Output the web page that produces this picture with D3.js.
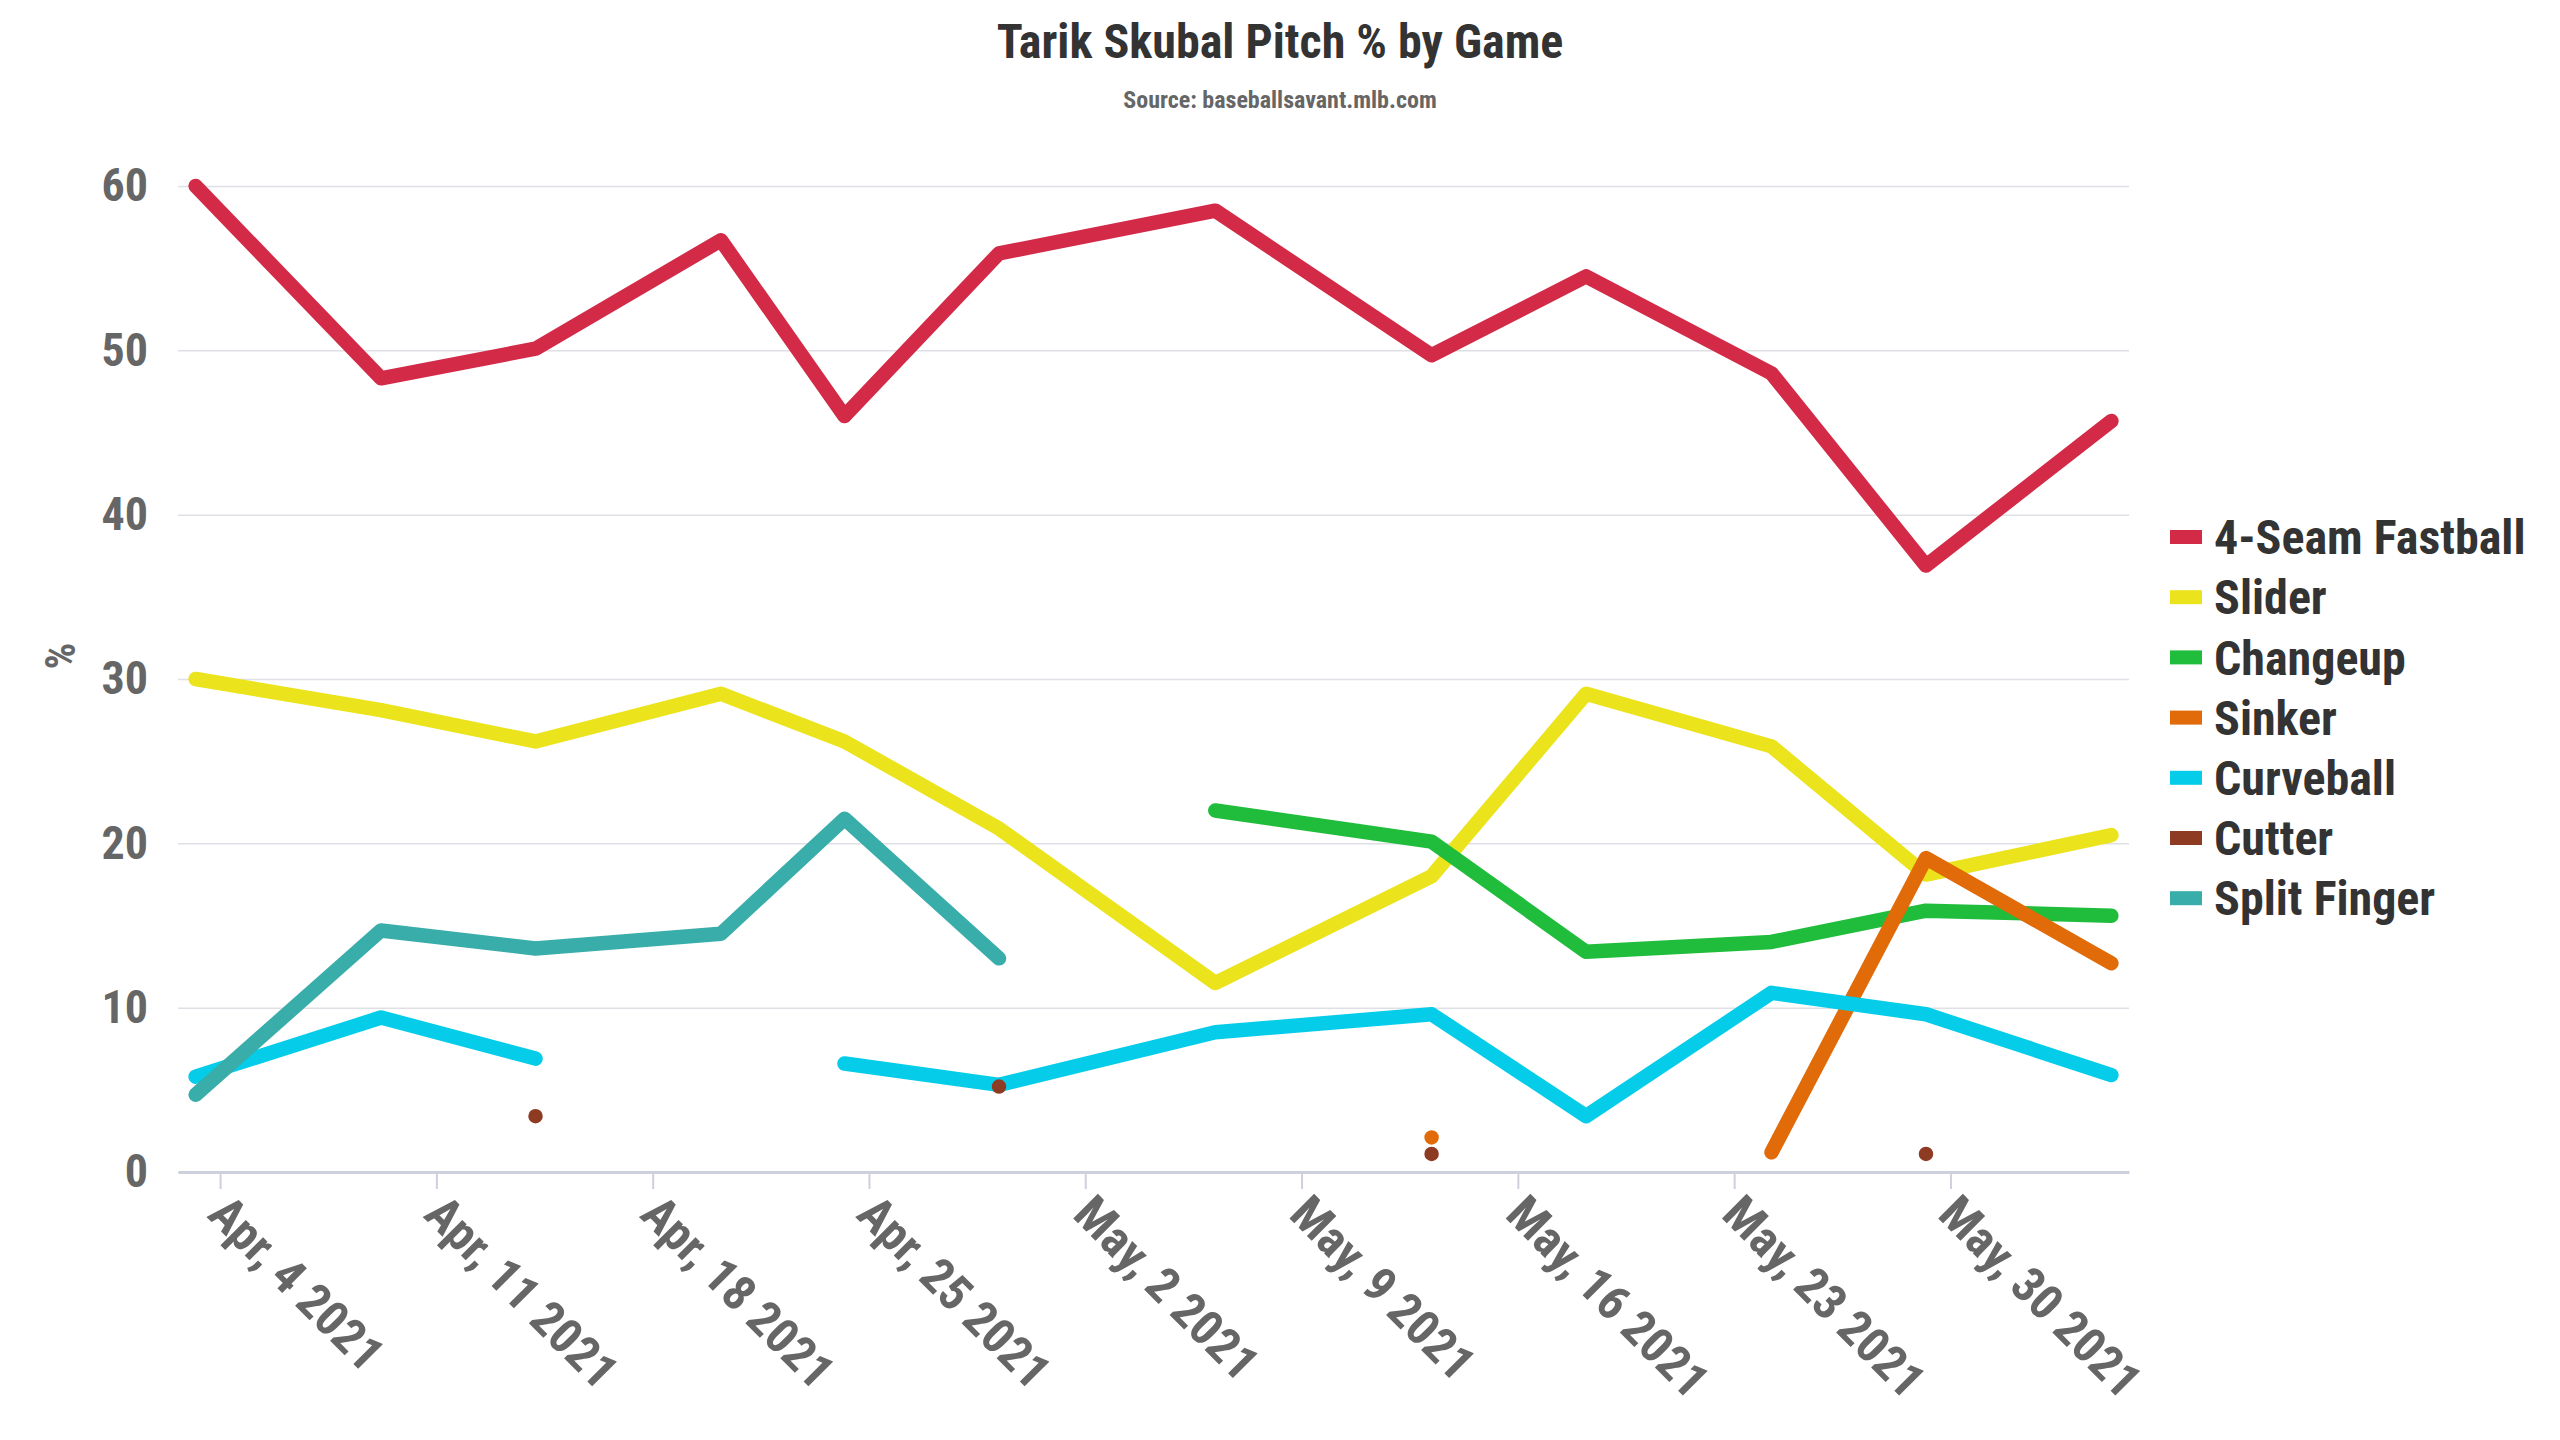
<!DOCTYPE html>
<html>
<head>
<meta charset="utf-8">
<script src="https://cdn.jsdelivr.net/npm/d3@7"></script>
<style>
  html, body { margin: 0; padding: 0; background: #fff; }
  svg { display: block; }
  .cond { font-family: "Roboto Condensed", "Liberation Sans Narrow", "Arial Narrow", Roboto, sans-serif; }
</style>
</head>
<body>
<svg id="chart" width="2560" height="1440"></svg>
<script>
// ---- data ----
const gameDates = ["2021-04-03T05:00", "2021-04-09T05:00", "2021-04-14T05:00", "2021-04-20T05:00",
  "2021-04-24T05:00", "2021-04-29T05:00", "2021-05-06T05:00", "2021-05-13T05:00",
  "2021-05-18T05:00", "2021-05-24T05:00", "2021-05-29T05:00", "2021-06-04T05:00"];
const fastball    = [60.0, 48.3, 50.1, 56.7, 46.0, 55.9, 58.5, 49.7, 54.5, 48.6, 36.9, 45.7];
const slider      = [30.0, 28.1, 26.2, 29.1, 26.2, 20.9, 11.5, 18.0, 29.1, 25.9, 18.1, 20.5];
const changeup    = [null, null, null, null, null, null, 22.0, 20.1, 13.4, 14.0, 15.9, 15.6];
const sinker      = [null, null, null, null, null, null, null, 2.1, null, 1.2, 19.1, 12.7];
const curveball   = [5.8, 9.4, 6.9, null, 6.6, 5.3, 8.5, 9.6, 3.4, 10.9, 9.6, 5.9];
const cutter      = [null, null, 3.4, null, null, 5.2, null, 1.1, null, null, 1.1, null];
const splitFinger = [4.7, 14.7, 13.6, 14.5, 21.5, 13.0, null, null, null, null, null, null];
const seriesNames = ["4-Seam Fastball", "Slider", "Changeup", "Sinker", "Curveball", "Cutter", "Split Finger"];
const seriesColors = ["#d32a48", "#ebe31b", "#1fbd3b", "#e06b08", "#05cde9", "#8e3b24", "#38ada9"];
const yTicks = [0, 10, 20, 30, 40, 50, 60];
const xTickDates = ["2021-04-04", "2021-04-11", "2021-04-18", "2021-04-25", "2021-05-02",
  "2021-05-09", "2021-05-16", "2021-05-23", "2021-05-30"];
const titleText = "Tarik Skubal Pitch % by Game";
const subtitleText = "Source: baseballsavant.mlb.com";
const yLabel = "%";

// ---- setup ----
const seriesValues = [fastball, slider, changeup, sinker, curveball, cutter, splitFinger];
const parseT = d3.timeParse("%Y-%m-%dT%H:%M");
const parseD = d3.timeParse("%Y-%m-%d");
const dates = gameDates.map(parseT);
const svg = d3.select("#chart");

const mLeft = 178, mRight = 2129, mTop = 186, mBottom = 1172;
const ext = d3.extent(dates);
const pad = (ext[1] - ext[0]) * 0.0092;
const x = d3.scaleTime().domain([new Date(+ext[0] - pad), new Date(+ext[1] + pad)]).range([mLeft, mRight]);
const y = d3.scaleLinear().domain([0, 60]).range([mBottom, mTop]);

// title
svg.append("text").attr("class", "cond").attr("x", 1280).attr("y", 58)
  .attr("text-anchor", "middle").attr("font-size", 48).attr("font-weight", 700)
  .attr("fill", "#333").text(titleText);
svg.append("text").attr("class", "cond").attr("x", 1280).attr("y", 108)
  .attr("text-anchor", "middle").attr("font-size", 24).attr("font-weight", 700)
  .attr("fill", "#666").text(subtitleText);

// y grid + axis
const yAxis = d3.axisLeft(y).tickValues(yTicks).tickSize(-(mRight - mLeft)).tickPadding(30);
const gy = svg.append("g").attr("transform", `translate(${mLeft},0)`).call(yAxis);
gy.select(".domain").remove();
gy.selectAll(".tick line").attr("stroke", "#dfdfe6").attr("stroke-width", 1.5);
gy.selectAll(".tick text").attr("class", "cond").attr("font-size", 46).attr("font-weight", 700)
  .attr("fill", "#666");

svg.append("text").attr("class", "cond")
  .attr("transform", `translate(75,656) rotate(-90)`)
  .attr("text-anchor", "middle").attr("font-size", 42).attr("font-weight", 700)
  .attr("fill", "#666").text(yLabel);

// x axis
const fmt = d3.timeFormat("%b, %-d %Y");
const xAxis = d3.axisBottom(x).tickValues(xTickDates.map(parseD)).tickSize(17).tickFormat(fmt).tickSizeOuter(0);
const gx = svg.append("g").attr("transform", `translate(0,${mBottom})`).call(xAxis);
gx.select(".domain").attr("stroke", "#cfd0de").attr("stroke-width", 3);
gx.selectAll(".tick line").attr("stroke", "#cfd0de").attr("stroke-width", 2);
gx.selectAll(".tick text").attr("class", "cond").attr("font-size", 49).attr("font-weight", 700)
  .attr("fill", "#666").attr("text-anchor", "start")
  .attr("transform", "translate(10,20) rotate(45)").attr("dy", "0.71em").attr("y", 0).attr("x", 0);

// lines
const line = d3.line().defined(d => d.v != null).x(d => x(d.date)).y(d => y(d.v));
const plot = svg.append("g");
seriesValues.forEach((vals, i) => {
  const pts = vals.map((v, j) => ({ date: dates[j], v }));
  plot.append("path").datum(pts).attr("d", line).attr("fill", "none")
    .attr("stroke", seriesColors[i]).attr("stroke-width", 14.5)
    .attr("stroke-linecap", "round").attr("stroke-linejoin", "round");
  // isolated points
  pts.forEach((p, j) => {
    if (p.v == null) return;
    const prev = j > 0 ? pts[j - 1].v : null, next = j < pts.length - 1 ? pts[j + 1].v : null;
    if (prev == null && next == null) {
      const isCut = seriesNames[i] === "Cutter";
      plot.append("path").attr("d", d3.symbol().type(isCut ? d3.symbolCircle : d3.symbolTriangle).size(isCut ? 50 : 30)())
        .attr("transform", `translate(${x(p.date)},${y(p.v)})`).attr("fill", seriesColors[i]);
    }
  });
});

// legend
const lg = svg.append("g").attr("transform", "translate(2170,537)");
seriesNames.forEach((n, i) => {
  const g = lg.append("g").attr("transform", `translate(0,${i * 60.2})`);
  g.append("rect").attr("x", 0).attr("y", -7).attr("width", 32).attr("height", 14).attr("fill", seriesColors[i]);
  g.append("text").attr("class", "cond").attr("x", 44).attr("y", 0).attr("dy", "0.36em")
    .attr("font-size", 48).attr("font-weight", 700).attr("fill", "#333").text(n);
});
</script>
</body>
</html>
